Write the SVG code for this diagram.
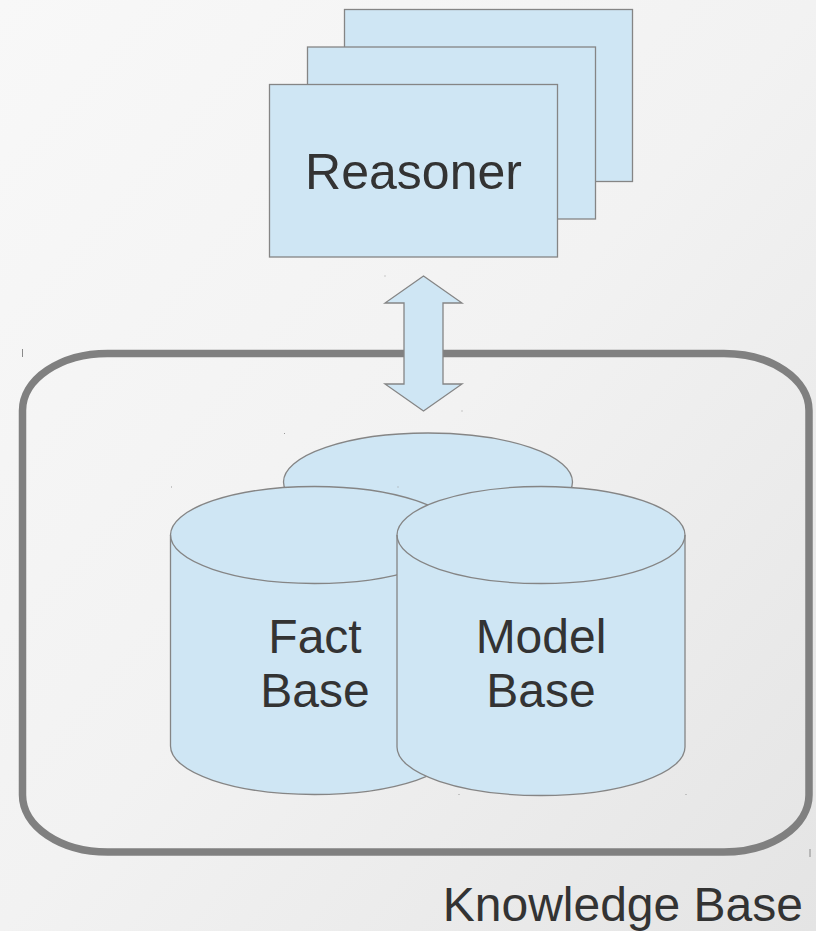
<svg xmlns="http://www.w3.org/2000/svg" width="816" height="931" viewBox="0 0 816 931">
  <defs>
    <linearGradient id="bg" x1="0" y1="0" x2="1" y2="1">
      <stop offset="0" stop-color="#f8f8f8"/>
      <stop offset="0.5" stop-color="#f2f2f2"/>
      <stop offset="1" stop-color="#e4e4e4"/>
    </linearGradient>
  </defs>
  <style>
    .shape { fill: #cfe6f4; stroke: #858585; stroke-width: 1.3; }
    .lbl { font-family: "Liberation Sans", Arial, sans-serif; font-size: 48px; fill: #333333; text-anchor: middle; }
    .frame { fill: none; stroke: #808080; stroke-width: 7.5; }
    .dot { fill: #9a9a9a; }
    .tick { stroke: #8a8a8a; stroke-width: 1; }
  </style>
  <rect x="0" y="0" width="816" height="931" fill="url(#bg)"/>

  <g id="knowledge-base">
    <rect class="frame" x="22.5" y="353.5" width="786.5" height="498.5" rx="85" ry="57"/>
    <text class="lbl" x="803" y="921" style="text-anchor:end">Knowledge Base</text>
  </g>

  <g id="reasoner">
    <rect class="shape" x="344.5" y="9.5" width="288" height="172"/>
    <rect class="shape" x="307.5" y="47" width="288" height="172"/>
    <rect class="shape" x="269.5" y="84.5" width="288" height="172.5"/>
    <text class="lbl" x="413.5" y="188.5" style="font-size:50px">Reasoner</text>
  </g>

  <g id="connectors">
    <polygon class="shape" points="423.5,276 462,303 443,303 443,384 462,384 423.5,411 385,384 404,384 404,303 385,303"/>
  </g>

  <g id="back-base">
    <ellipse class="shape" cx="428" cy="482" rx="144.5" ry="49"/>
  </g>

  <g id="fact-base">
    <path class="shape" d="M170.5,535 A144,48.5 0 0 1 458.5,535 L458.5,746 A144,48.5 0 0 1 170.5,746 Z"/>
    <path class="shape" style="fill:none" d="M170.5,535 A144,48.5 0 0 0 458.5,535"/>
    <text class="lbl" x="315" y="653">Fact</text>
    <text class="lbl" x="315" y="707">Base</text>
  </g>

  <g id="model-base">
    <path class="shape" d="M397,535 A144,48.5 0 0 1 685,535 L685,747 A144,48.5 0 0 1 397,747 Z"/>
    <path class="shape" style="fill:none" d="M397,535 A144,48.5 0 0 0 685,535"/>
    <text class="lbl" x="541" y="653">Model</text>
    <text class="lbl" x="541" y="707">Base</text>
  </g>

  <g id="marks">
    <line class="tick" x1="22.5" y1="349" x2="22.5" y2="357"/>
    <line class="tick" x1="810" y1="849" x2="810" y2="857"/>
    <rect class="dot" x="384.5" y="275.5" width="1" height="1"/>
    <rect class="dot" x="461.5" y="410.5" width="1" height="1"/>
    <rect class="dot" x="284" y="433" width="1" height="1"/>
    <rect class="dot" x="171" y="486.5" width="1" height="1"/>
    <rect class="dot" x="397.5" y="486.5" width="1" height="1"/>
    <rect class="dot" x="458.5" y="794" width="1" height="1"/>
    <rect class="dot" x="685.5" y="794" width="1" height="1"/>
  </g>
</svg>
